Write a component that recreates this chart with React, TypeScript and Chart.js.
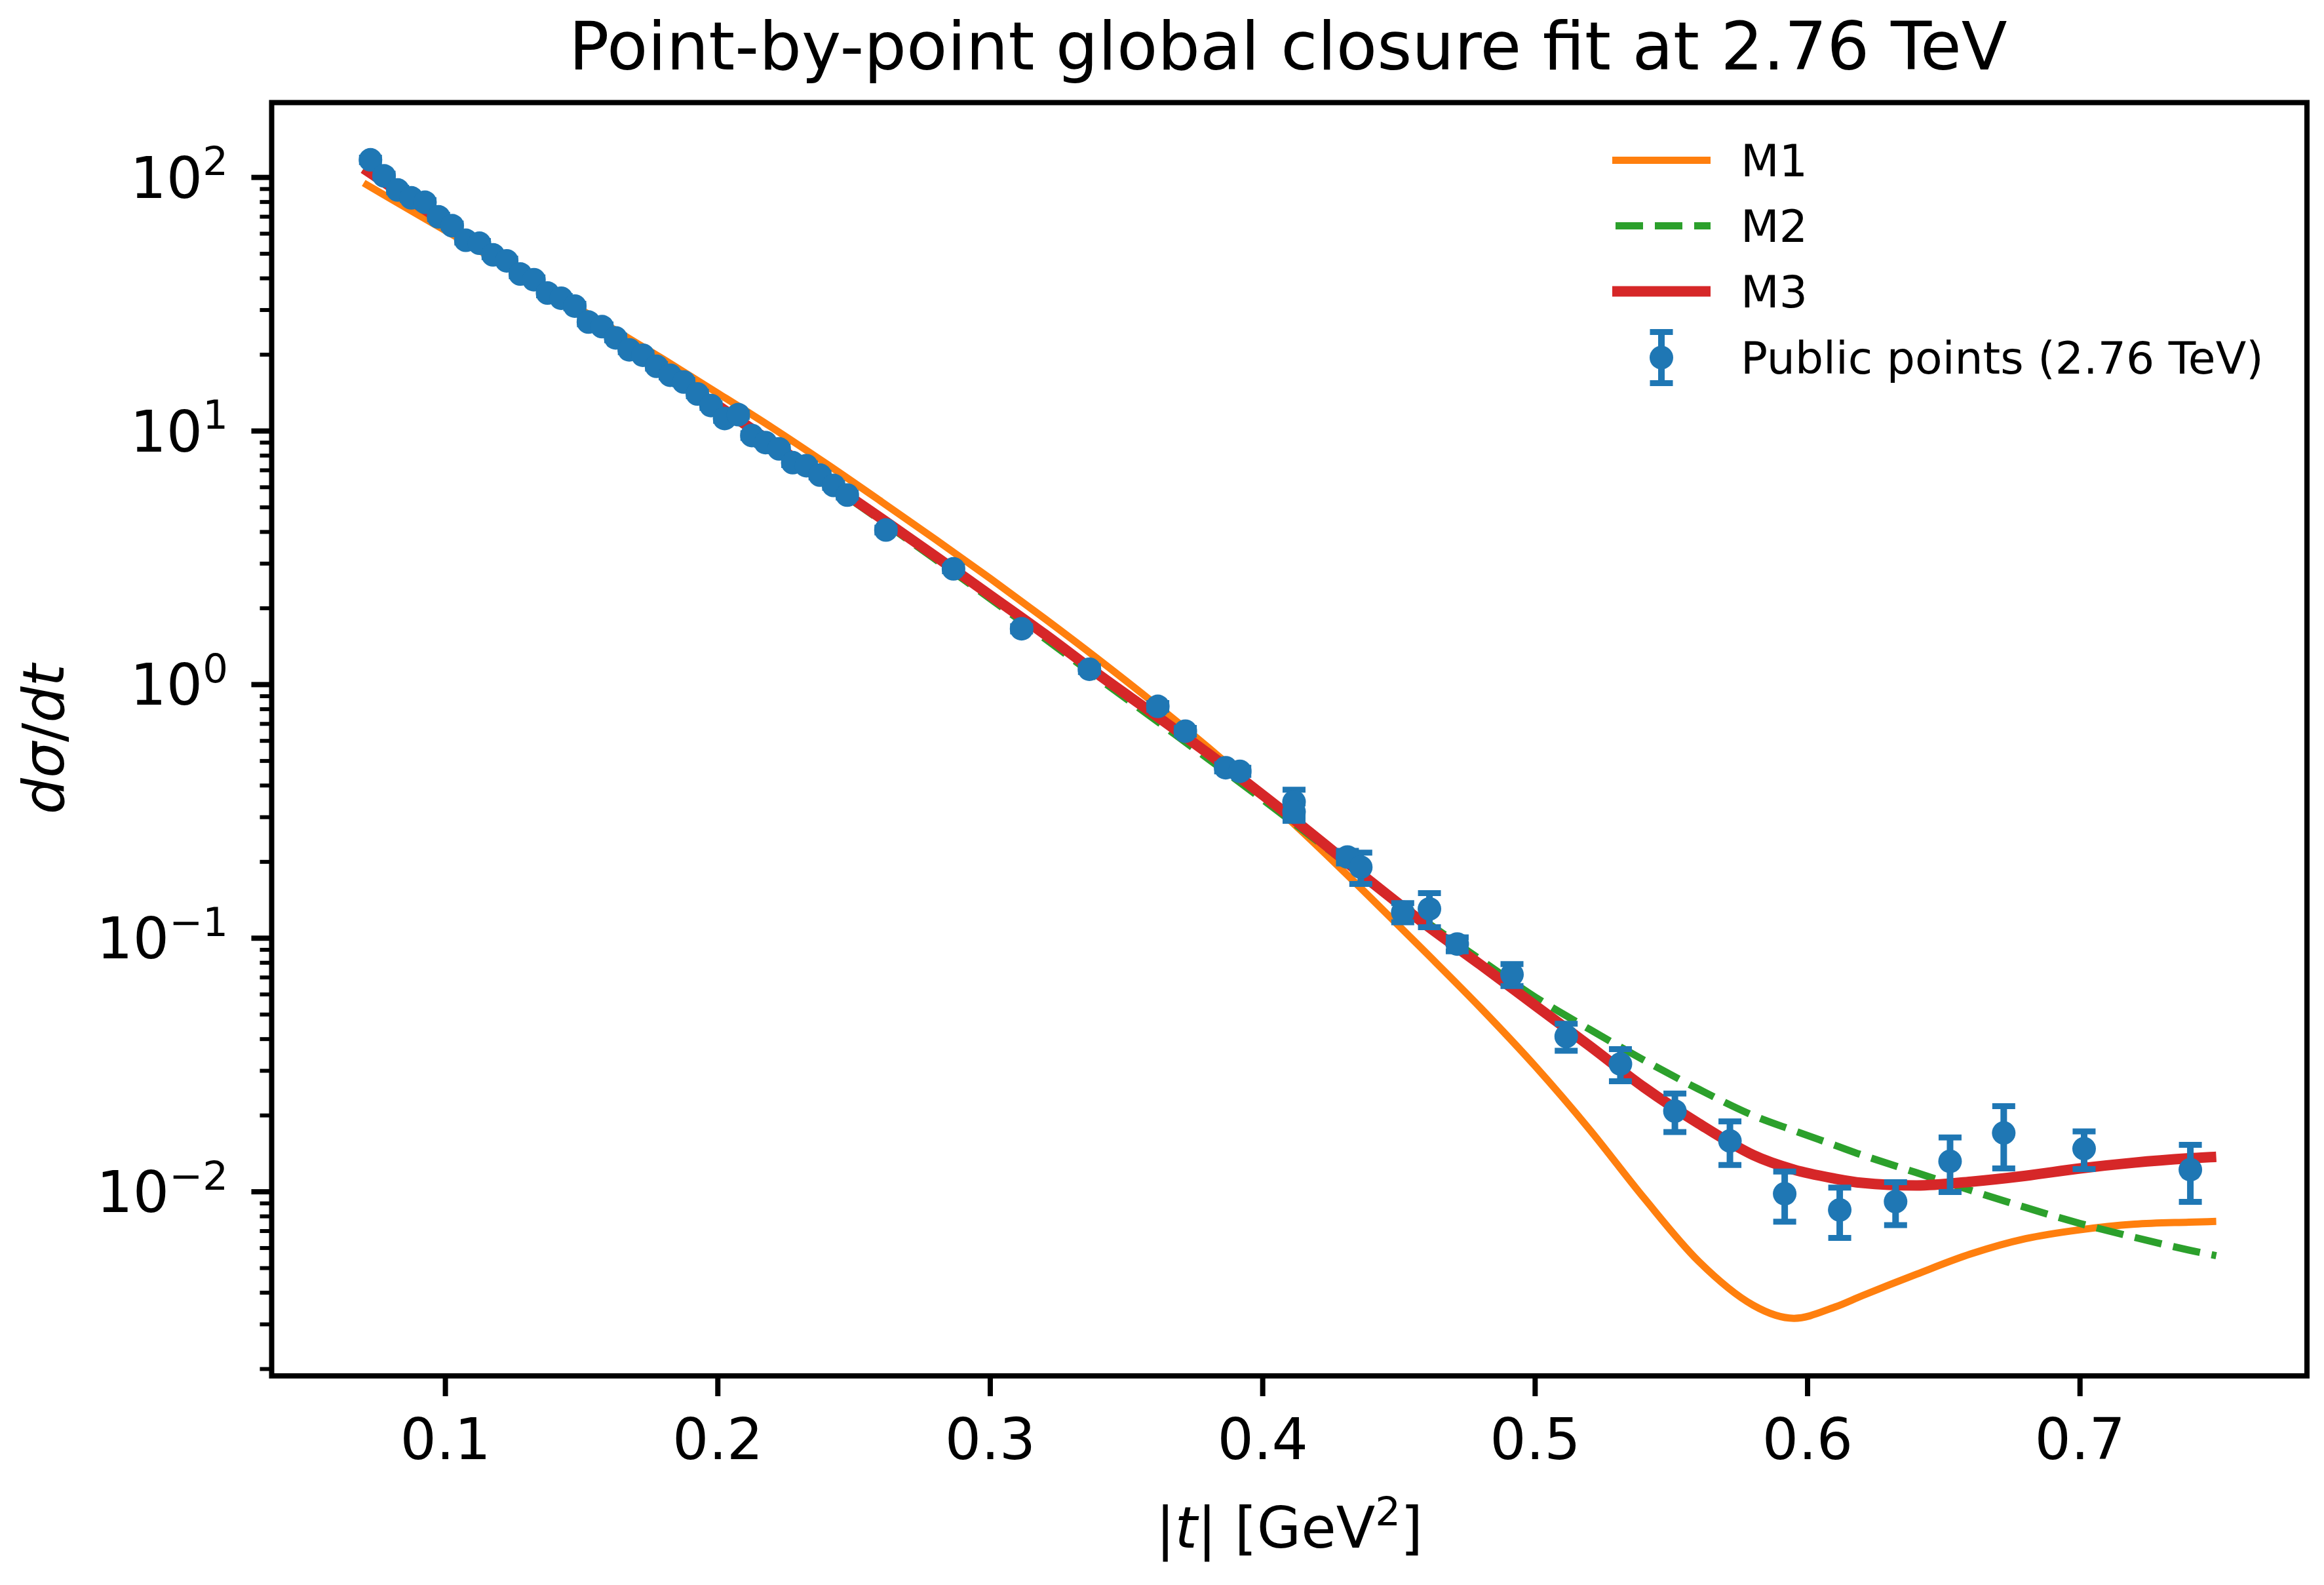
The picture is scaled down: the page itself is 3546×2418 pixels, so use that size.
import React, { useEffect, useRef } from 'react';
import { Chart, registerables } from 'chart.js';

Chart.register(...registerables);

// ---------------- data ----------------
const titleText = 'Point-by-point global closure fit at 2.76 TeV';
const seriesNames = ['M1', 'M2', 'M3', 'Public points (2.76 TeV)'];

const curveT = [0.07, 0.08, 0.10, 0.12, 0.14, 0.16, 0.18, 0.20, 0.22, 0.24, 0.26, 0.28, 0.30, 0.32, 0.34, 0.36, 0.38, 0.40, 0.42, 0.44, 0.46, 0.48, 0.50, 0.52, 0.54, 0.56, 0.58, 0.595, 0.61, 0.62, 0.64, 0.66, 0.68, 0.70, 0.72, 0.74, 0.75];

const m1Values = [95.1, 82.2, 61.7, 46.2, 34.7, 25.9, 19.2, 14.1, 10.3, 7.41, 5.27, 3.73, 2.62, 1.82, 1.25, 0.847, 0.565, 0.366, 0.231, 0.1429, 0.0875, 0.0531, 0.0313, 0.0176, 0.00944, 0.00532, 0.00357, 0.00317, 0.00351, 0.00389, 0.00473, 0.00569, 0.00653, 0.00708, 0.00745, 0.00759, 0.00764];

const m2Values = [108.4, 91.6, 65.6, 47.0, 33.7, 24.1, 17.3, 12.36, 8.81, 6.24, 4.42, 3.11, 2.18, 1.52, 1.052, 0.733, 0.509, 0.352, 0.2415, 0.166, 0.1161, 0.0822, 0.0586, 0.0437, 0.0330, 0.0254, 0.0200, 0.01742, 0.01526, 0.01396, 0.01189, 0.01012, 0.00867, 0.0075, 0.00661, 0.00589, 0.0056];

const m3Values = [108.4, 91.8, 65.9, 47.3, 34.0, 24.4, 17.5, 12.6, 8.97, 6.35, 4.52, 3.20, 2.25, 1.58, 1.091, 0.766, 0.535, 0.367, 0.248, 0.166, 0.1127, 0.0785, 0.0543, 0.0376, 0.0258, 0.0186, 0.01396, 0.01222, 0.01127, 0.01084, 0.01059, 0.01096, 0.01156, 0.01236, 0.01303, 0.01355, 0.01374];

const pointT = [0.0725, 0.0775, 0.0825, 0.0875, 0.0925, 0.0975, 0.1025, 0.1075, 0.1125, 0.1175, 0.1225, 0.1275, 0.1325, 0.1375, 0.1425, 0.1475, 0.1525, 0.1575, 0.1625, 0.1675, 0.1725, 0.1775, 0.1825, 0.1875, 0.1925, 0.1975, 0.2025, 0.2075, 0.2125, 0.2175, 0.2225, 0.2275, 0.2325, 0.2375, 0.2425, 0.2475, 0.2617, 0.2865, 0.3115, 0.3364, 0.3615, 0.3716, 0.3864, 0.3916, 0.4115, 0.4115, 0.4311, 0.4360, 0.4514, 0.4612, 0.4714, 0.4915, 0.5114, 0.5313, 0.5513, 0.5715, 0.5916, 0.6118, 0.6323, 0.6523, 0.6720, 0.7015, 0.7405];

const pointValues = [117.3, 101.4, 89.2, 83.1, 79.8, 69.9, 64.5, 56.5, 55.0, 49.5, 46.9, 41.6, 39.5, 35.0, 33.4, 31.1, 26.9, 25.8, 23.3, 20.9, 19.9, 18.0, 16.6, 15.6, 14.0, 12.6, 11.2, 11.6, 9.6, 9.0, 8.5, 7.5, 7.3, 6.7, 6.1, 5.59, 4.07, 2.86, 1.66, 1.15, 0.821, 0.655, 0.470, 0.455, 0.345, 0.315, 0.209, 0.1906, 0.1266, 0.1305, 0.0948, 0.0719, 0.0410, 0.0319, 0.0208, 0.01586, 0.00982, 0.00848, 0.00915, 0.01318, 0.01706, 0.01479, 0.01222];

const pointErrors = [2.4, 2.1, 1.8, 1.7, 1.6, 1.4, 1.3, 1.1, 1.1, 1.0, 0.95, 0.85, 0.8, 0.7, 0.68, 0.63, 0.55, 0.53, 0.48, 0.43, 0.41, 0.37, 0.34, 0.32, 0.29, 0.26, 0.23, 0.24, 0.2, 0.19, 0.18, 0.16, 0.15, 0.14, 0.13, 0.12, 0.09, 0.06, 0.04, 0.03, 0.025, 0.02, 0.015, 0.015, 0.04, 0.025, 0.012, 0.027, 0.011, 0.02, 0.006, 0.0071, 0.005, 0.0046, 0.0036, 0.0031, 0.0022, 0.0019, 0.00176, 0.0032, 0.0047, 0.0025, 0.0031];

const xTickValues = [0.1, 0.2, 0.3, 0.4, 0.5, 0.6, 0.7];
const xTickLabels = ['0.1', '0.2', '0.3', '0.4', '0.5', '0.6', '0.7'];
const yMajorExponents = [-2, -1, 0, 1, 2];
const yMajorExpLabels = ['\u22122', '\u22121', '0', '1', '2'];
const yMinorMultipliers = [2, 3, 4, 5, 6, 7, 8, 9];
const yMinorExponents = [-3, -2, -1, 0, 1, 2];

// ---------------- styling ----------------
const W = 3546;
const H = 2418;
const FONT = '"DejaVu Sans", "Liberation Sans", sans-serif';
const ORANGE = '#ff7f0e';
const GREEN = '#2ca02c';
const RED = '#d62728';
const BLUE = '#1f77b4';
const X_MIN = 0.03623;
const X_MAX = 0.7833;
const Y_MIN = 1.879e-3;
const Y_MAX = 197.3;
const POINTS_INDEX = 3;

type Piece = { text: string; font: string; dy?: number };

function drawRich(ctx: CanvasRenderingContext2D, pieces: Piece[], cx: number, baseline: number) {
  let total = 0;
  const widths = pieces.map((p) => {
    ctx.font = p.font;
    const w = ctx.measureText(p.text).width;
    total += w;
    return w;
  });
  let x = cx - total / 2;
  ctx.textAlign = 'left';
  ctx.textBaseline = 'alphabetic';
  pieces.forEach((p, i) => {
    ctx.font = p.font;
    ctx.fillText(p.text, x, baseline + (p.dy || 0));
    x += widths[i];
  });
}

const errorBarPlugin = {
  id: 'errorBars',
  beforeDatasetDraw(chart: any, args: any) {
    if (args.index !== POINTS_INDEX) return;
    const { ctx, chartArea: a } = chart;
    const xs = chart.scales.x;
    const ys = chart.scales.y;
    ctx.save();
    ctx.beginPath();
    ctx.rect(a.left, a.top, a.right - a.left, a.bottom - a.top);
    ctx.clip();
    ctx.strokeStyle = BLUE;
    ctx.lineCap = 'butt';
    pointT.forEach((t, i) => {
      const px = xs.getPixelForValue(t);
      const top = ys.getPixelForValue(pointValues[i] + pointErrors[i]);
      const bot = ys.getPixelForValue(Math.max(pointValues[i] - pointErrors[i], 1e-6));
      ctx.lineWidth = 10;
      ctx.beginPath();
      ctx.moveTo(px, top);
      ctx.lineTo(px, bot);
      ctx.stroke();
      ctx.lineWidth = 9;
      ctx.beginPath();
      ctx.moveTo(px - 17.5, top);
      ctx.lineTo(px + 17.5, top);
      ctx.moveTo(px - 17.5, bot);
      ctx.lineTo(px + 17.5, bot);
      ctx.stroke();
    });
    ctx.restore();
  },
};

const decorPlugin = {
  id: 'decor',
  afterDraw(chart: any) {
    const { ctx, chartArea: a } = chart;
    const xs = chart.scales.x;
    const ys = chart.scales.y;
    ctx.save();
    ctx.fillStyle = '#000';
    ctx.strokeStyle = '#000';

    // frame
    ctx.lineWidth = 8;
    ctx.lineJoin = 'miter';
    ctx.strokeRect(a.left, a.top, a.right - a.left, a.bottom - a.top);

    // x ticks + labels
    ctx.lineCap = 'butt';
    xTickValues.forEach((v, i) => {
      const px = xs.getPixelForValue(v);
      ctx.lineWidth = 8;
      ctx.beginPath();
      ctx.moveTo(px, a.bottom);
      ctx.lineTo(px, a.bottom + 31);
      ctx.stroke();
      ctx.font = `87px ${FONT}`;
      ctx.textAlign = 'center';
      ctx.textBaseline = 'alphabetic';
      ctx.fillText(xTickLabels[i], px, a.bottom + 127);
    });

    // y minor ticks
    ctx.lineWidth = 6;
    yMinorExponents.forEach((e) => {
      yMinorMultipliers.forEach((m) => {
        const v = m * Math.pow(10, e);
        if (v < Y_MIN || v > Y_MAX) return;
        const py = ys.getPixelForValue(v);
        ctx.beginPath();
        ctx.moveTo(a.left - 18, py);
        ctx.lineTo(a.left, py);
        ctx.stroke();
      });
    });

    // y major ticks + labels
    yMajorExponents.forEach((e, i) => {
      const py = ys.getPixelForValue(Math.pow(10, e));
      ctx.lineWidth = 8;
      ctx.beginPath();
      ctx.moveTo(a.left - 31, py);
      ctx.lineTo(a.left, py);
      ctx.stroke();
      const mainFont = `87px ${FONT}`;
      const supFont = `61px ${FONT}`;
      ctx.font = mainFont;
      const wMain = ctx.measureText('10').width;
      ctx.font = supFont;
      const wSup = ctx.measureText(yMajorExpLabels[i]).width;
      const right = a.left - 66.5;
      const start = right - wMain - wSup;
      ctx.textAlign = 'left';
      ctx.textBaseline = 'alphabetic';
      ctx.font = mainFont;
      ctx.fillText('10', start, py + 31);
      ctx.font = supFont;
      ctx.fillText(yMajorExpLabels[i], start + wMain, py - 3.5);
    });

    // title
    ctx.font = `102px ${FONT}`;
    ctx.textAlign = 'center';
    ctx.textBaseline = 'alphabetic';
    ctx.fillText(titleText, (a.left + a.right) / 2 - 2, a.top - 50.5);

    // x axis label: |t| [GeV^2]
    const reg = `87px ${FONT}`;
    const ital = `italic 87px ${FONT}`;
    drawRich(
      ctx,
      [
        { text: '|', font: reg },
        { text: 't', font: ital },
        { text: '| [GeV', font: reg },
        { text: '2', font: `61px ${FONT}`, dy: -34 },
        { text: ']', font: reg },
      ],
      (a.left + a.right) / 2,
      2361
    );

    // y axis label: dσ/dt
    ctx.save();
    ctx.translate(97, (a.top + a.bottom) / 2);
    ctx.rotate(-Math.PI / 2);
    drawRich(
      ctx,
      [
        { text: 'd\u03c3', font: ital },
        { text: '/', font: reg },
        { text: 'dt', font: ital },
      ],
      0,
      0
    );
    ctx.restore();

    // legend
    const lx0 = a.right - 1060;
    const lx1 = a.right - 910;
    const tx = a.right - 864;
    const rows = [a.top + 88, a.top + 188, a.top + 288, a.top + 389];
    const legendFont = `68px ${FONT}`;

    ctx.lineCap = 'butt';
    // M1
    ctx.strokeStyle = ORANGE;
    ctx.lineWidth = 11;
    ctx.beginPath();
    ctx.moveTo(lx0, rows[0]);
    ctx.lineTo(lx1, rows[0]);
    ctx.stroke();
    // M2
    ctx.strokeStyle = GREEN;
    ctx.lineWidth = 11;
    ctx.setLineDash([42, 18]);
    ctx.beginPath();
    ctx.moveTo(lx0 + 5, rows[1]);
    ctx.lineTo(lx1, rows[1]);
    ctx.stroke();
    ctx.setLineDash([]);
    // M3
    ctx.strokeStyle = RED;
    ctx.lineWidth = 16;
    ctx.beginPath();
    ctx.moveTo(lx0, rows[2]);
    ctx.lineTo(lx1, rows[2]);
    ctx.stroke();
    // points
    const mx = (lx0 + lx1) / 2;
    ctx.strokeStyle = BLUE;
    ctx.fillStyle = BLUE;
    ctx.lineWidth = 10;
    ctx.beginPath();
    ctx.moveTo(mx, rows[3] - 39);
    ctx.lineTo(mx, rows[3] + 39);
    ctx.stroke();
    ctx.lineWidth = 9;
    ctx.beginPath();
    ctx.moveTo(mx - 17.5, rows[3] - 39);
    ctx.lineTo(mx + 17.5, rows[3] - 39);
    ctx.moveTo(mx - 17.5, rows[3] + 39);
    ctx.lineTo(mx + 17.5, rows[3] + 39);
    ctx.stroke();
    ctx.beginPath();
    ctx.arc(mx, rows[3], 18, 0, Math.PI * 2);
    ctx.fill();

    ctx.fillStyle = '#000';
    ctx.font = legendFont;
    ctx.textAlign = 'left';
    ctx.textBaseline = 'alphabetic';
    seriesNames.forEach((name, i) => {
      ctx.fillText(name, tx, rows[i] + 24);
    });

    ctx.restore();
  },
};

export default function App() {
  const canvasRef = useRef<HTMLCanvasElement>(null);

  useEffect(() => {
    document.body.style.margin = '0';
    const canvas = canvasRef.current;
    if (!canvas) return;

    const curve = (vals: number[]) => curveT.map((t, i) => ({ x: t, y: vals[i] }));

    const chart = new Chart(canvas, {
      type: 'line',
      data: {
        datasets: [
          {
            label: seriesNames[0],
            data: curve(m1Values),
            borderColor: ORANGE,
            backgroundColor: ORANGE,
            borderWidth: 11,
            pointRadius: 0,
            cubicInterpolationMode: 'monotone',
            fill: false,
            order: 3,
          },
          {
            label: seriesNames[1],
            data: curve(m2Values),
            borderColor: GREEN,
            backgroundColor: GREEN,
            borderWidth: 11,
            borderDash: [42, 18],
            pointRadius: 0,
            cubicInterpolationMode: 'monotone',
            fill: false,
            order: 2,
          },
          {
            label: seriesNames[2],
            data: curve(m3Values),
            borderColor: RED,
            backgroundColor: RED,
            borderWidth: 16,
            pointRadius: 0,
            cubicInterpolationMode: 'monotone',
            fill: false,
            order: 1,
          },
          {
            label: seriesNames[3],
            data: pointT.map((t, i) => ({ x: t, y: pointValues[i] })),
            showLine: false,
            borderColor: BLUE,
            backgroundColor: BLUE,
            pointBackgroundColor: BLUE,
            pointBorderWidth: 0,
            pointRadius: 18,
            pointHoverRadius: 18,
            order: 0,
          },
        ],
      } as any,
      options: {
        responsive: false,
        maintainAspectRatio: false,
        devicePixelRatio: 1,
        animation: false,
        events: [],
        layout: { padding: { left: 414.5, top: 156.5, right: 26, bottom: 319 } },
        plugins: {
          legend: { display: false },
          title: { display: false },
          tooltip: { enabled: false },
        },
        scales: {
          x: { type: 'linear', min: X_MIN, max: X_MAX, display: false },
          y: { type: 'logarithmic', min: Y_MIN, max: Y_MAX, display: false },
        },
      } as any,
      plugins: [errorBarPlugin, decorPlugin],
    });

    return () => chart.destroy();
  }, []);

  return (
    <div style={{ position: 'absolute', left: 0, top: 0, width: W, height: H, background: '#ffffff' }}>
      <canvas ref={canvasRef} width={W} height={H} style={{ display: 'block', width: W, height: H }} />
    </div>
  );
}
